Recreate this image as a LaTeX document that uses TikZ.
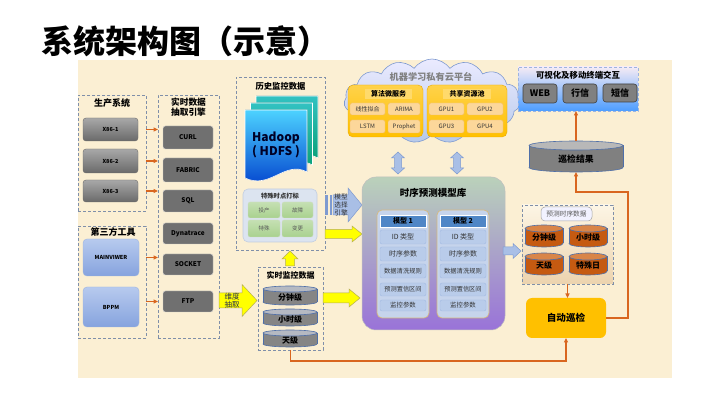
\documentclass[tikz,border=0pt]{standalone}
\usepackage{fontspec}
\setmainfont{Noto Sans CJK SC}
\usetikzlibrary{shapes.geometric,shapes.symbols,arrows.meta,calc}
\definecolor{bgc}{HTML}{FBEFD3}
\definecolor{dashc}{HTML}{7F8FA9}
\definecolor{orl}{HTML}{D9661F}
\definecolor{yel}{HTML}{FFFF00}
\definecolor{yeld}{HTML}{B5AE55}
\definecolor{barf}{HTML}{A9BFE6}
\definecolor{bard}{HTML}{7E9AD0}
\definecolor{GA}{HTML}{A8A8A8}
\definecolor{GB}{HTML}{6A6A6A}
\definecolor{EF}{HTML}{707070}
\definecolor{EB}{HTML}{C8C8C8}
\definecolor{BT}{HTML}{B7CAEE}
\definecolor{BO}{HTML}{86A3DE}
\definecolor{BBd}{HTML}{9DB4E0}
\definecolor{cylg}{HTML}{858585}
\definecolor{cylgt}{HTML}{B5B9C2}
\definecolor{cylo}{HTML}{C55A11}
\definecolor{cylot}{HTML}{D98548}
\definecolor{cylbd}{HTML}{4F6FA8}
\definecolor{gold}{HTML}{FFC000}
\definecolor{goldl}{HTML}{FFD24A}
\definecolor{goldd}{HTML}{E8A800}
\definecolor{gcell}{HTML}{FCD79A}
\definecolor{gcelld}{HTML}{F2BE5C}
\definecolor{ghead}{HTML}{FFDA6B}
\definecolor{mpan}{HTML}{C6D4EC}
\definecolor{mpand}{HTML}{D6B97E}
\definecolor{mhead}{HTML}{4F86C6}
\definecolor{mcellf}{HTML}{B9CCEA}
\definecolor{mcelld}{HTML}{A3BBE2}
\definecolor{greenc}{HTML}{A9D18E}
\definecolor{greencl}{HTML}{C5E0B3}
\definecolor{markf}{HTML}{DCE4F0}
\definecolor{markd}{HTML}{C2CDE0}
\definecolor{txtd}{HTML}{333333}
\definecolor{txtn}{HTML}{2A3050}

\newcommand\mybox[7][]{\node[inner sep=0pt, outer sep=0pt, minimum width={(#5-#3)*1pt}, minimum height={(#6-#4)*1pt}, #1] (#2) at ({(#3+#5)/2},{(#4+#6)/2}) {#7};}
\newcommand\cylr{3}
\newcommand\cyl[9][cylb]{%
 \pgfmathsetmacro\cxm{(#3+#5)/2}%
 \pgfmathsetmacro\cwr{(#5-#3)/2}%
 \filldraw[#1,fill=#7] (\cxm,#6-\cylr) ellipse [x radius=\cwr, y radius=\cylr];
 \fill[#7] (#3,#4+\cylr) rectangle (#5,#6-\cylr);
 \draw[#1] (#3,#4+\cylr) -- (#3,#6-\cylr) (#5,#4+\cylr) -- (#5,#6-\cylr);
 \filldraw[#1,fill=#8] (\cxm,#4+\cylr) ellipse [x radius=\cwr, y radius=\cylr];
 \node[inner sep=0pt, outer sep=0pt, minimum width={(#5-#3)*1pt}, minimum height={(#6-#4)*1pt}] (#2) at (\cxm,{(#4+#6)/2}) {};
 \node[cyltxt] (#2-t) at (\cxm,{(#4+#6)/2+\cylr/2}) {#9};
}
% right block arrow: style, x1, x2, yc, shaft half, head half, head length
\newcommand\rblock[7]{\filldraw[#1] (#2,#4-#5) -- (#3-#7,#4-#5) -- (#3-#7,#4-#6) -- (#3,#4) -- (#3-#7,#4+#6) -- (#3-#7,#4+#5) -- (#2,#4+#5) -- cycle;}
% up block arrow: style, xc, ytip, ybase, shaft half, head half, head length
\newcommand\ublock[7]{\filldraw[#1] (#2-#5,#4) -- (#2-#5,#3+#7) -- (#2-#6,#3+#7) -- (#2,#3) -- (#2+#6,#3+#7) -- (#2+#5,#3+#7) -- (#2+#5,#4) -- cycle;}
% vertical double block arrow: style, xc, ytop, ybot, shaft half, head half, head length
\newcommand\dblock[7]{\filldraw[#1] (#2,#3) -- (#2+#6,#3+#7) -- (#2+#5,#3+#7) -- (#2+#5,#4-#7) -- (#2+#6,#4-#7) -- (#2,#4) -- (#2-#6,#4-#7) -- (#2-#5,#4-#7) -- (#2-#5,#3+#7) -- (#2-#6,#3+#7) -- cycle;}

\tikzset{
 dbox/.style={draw=dashc, line width=0.8pt, dash pattern=on 3pt off 2pt},
 hdr/.style={font=\bfseries\fontsize{9}{10}\selectfont, inner sep=0pt, align=center},
 gbtn/.style={rounded corners=3pt, draw=GB, top color=GA, bottom color=GB, font=\bfseries\fontsize{5.5}{6}\selectfont},
 ebtn/.style={rounded corners=2.5pt, draw=EB, fill=EF, font=\bfseries\fontsize{6.5}{7}\selectfont},
 bbtn/.style={rounded corners=4pt, draw=BBd, top color=BT, bottom color=BO, font=\bfseries\fontsize{5.5}{6}\selectfont},
 oline/.style={draw=orl, line width=1.1pt, -{Triangle[length=4.5pt,width=4pt]}},
 yarr/.style={fill=yel, draw=yeld, line width=0.5pt},
 barr/.style={fill=barf, draw=bard, line width=0.5pt},
 cylb/.style={draw=cylbd, line width=0.6pt},
 cyltxt/.style={inner sep=0pt, font=\bfseries\fontsize{8}{9}\selectfont},
 gpanel/.style={rounded corners=5pt, draw=goldd, top color=goldl, bottom color=gold},
 gcellst/.style={rounded corners=1.5pt, fill=gcell, draw=gcelld, line width=0.4pt, text=txtd, font=\fontsize{6}{7}\selectfont},
 mcell/.style={rounded corners=2pt, fill=mcellf, draw=mcelld, line width=0.4pt, text=txtd},
 grcell/.style={rounded corners=2pt, top color=greencl, bottom color=greenc, draw=greenc!80!black!40, line width=0.3pt, text=black!65, font=\fontsize{5.5}{6}\selectfont},
 vbtn/.style={rounded corners=3pt, fill=black!50, draw=black!75, line width=0.6pt, font=\bfseries\fontsize{9}{10}\selectfont},
}

\begin{document}
\begin{tikzpicture}[x=1pt,y=-1pt]
\useasboundingbox (0,0) rectangle (715,403);
\fill[white] (0,0) rectangle (715,403);
\fill[bgc] (78,60) rectangle (672,378);

% title
\node[anchor=west, inner sep=0pt, font=\bfseries\fontsize{32}{34}\selectfont] (title) at (41,41) {系统架构图（示意）};

% ---------------- left column
\mybox[dbox]{prod}{78}{95}{146}{211}{}
\node[hdr] (prodt) at (112,103) {生产系统};
\mybox[gbtn]{x86a}{83}{118}{138}{141}{X86-1}
\mybox[gbtn]{x86b}{83}{149}{138}{173}{X86-2}
\mybox[gbtn]{x86c}{83}{180}{138}{202}{X86-3}

\mybox[dbox]{third}{78}{226}{146}{338}{}
\node[hdr] (thirdt) at (113,232) {第三方工具};
\mybox[bbtn]{mainv}{83}{239}{139}{276}{MAINVIWER}
\mybox[bbtn]{bppm}{83}{287}{139}{327}{BPPM}

\mybox[dbox]{eng}{158}{95}{219}{338}{}
\node[hdr, font=\bfseries\fontsize{8.7}{10}\selectfont] (engt) at (188.5,107) {实时数据\\抽取引擎};
\mybox[ebtn]{curl}{163}{126}{213}{149}{CURL}
\mybox[ebtn]{fabric}{163}{158}{213}{182}{FABRIC}
\mybox[ebtn]{sql}{163}{190}{213}{212}{SQL}
\mybox[ebtn]{dyna}{163}{223}{213}{244}{Dynatrace}
\mybox[ebtn]{socket}{163}{254}{213}{275}{SOCKET}
\mybox[ebtn]{ftp}{163}{291}{213}{312}{FTP}

\draw[oline] (prod.east |- x86a) -- (eng.west |- x86a);
\draw[oline] (prod.east |- x86b) -- (eng.west |- x86b);
\draw[oline] (prod.east |- x86c) -- (eng.west |- x86c);
\draw[oline] (third.east |- mainv) -- (eng.west |- mainv);
\draw[oline] (third.east |- ftp) -- (eng.west |- ftp);

% ---------------- history
\mybox[dbox]{hist}{236}{77}{325}{250}{}
\node[hdr, font=\bfseries\fontsize{8.3}{9}\selectfont] (histt) at (280.5,86) {历史监控数据};
\foreach \dx/\dy in {11/-14, 5.5/-7}{
 \fill[top color=teal!60!cyan!80, bottom color=teal!80!green, draw=white, line width=0.6pt]
 (245+\dx,110+\dy) -- (307+\dx,110+\dy) -- (307+\dx,172+\dy) .. controls (285+\dx,160+\dy) and (270+\dx,190+\dy) .. (245+\dx,178+\dy) -- cycle;
}
\fill[top color=cyan!75!blue!70, bottom color=blue!70!cyan!80!black, draw=white, line width=0.6pt]
 (245,110) -- (307,110) -- (307,172) .. controls (285,160) and (270,190) .. (245,178) -- cycle;
\node[inner sep=0pt, align=center, text=black!85!blue, font=\bfseries\fontsize{12}{14}\selectfont] (hdfs) at (276,145) {Hadoop\\( HDFS )};

\mybox[rounded corners=5pt, fill=markf, draw=markd, line width=0.6pt]{mark}{243}{189}{317}{242}{}
\node[inner sep=0pt, font=\bfseries\fontsize{6.3}{7}\selectfont, text=black!80] (markt) at (280,196) {特殊时点打标};
\mybox[grcell]{tc}{248}{202}{280}{218}{投产}
\mybox[grcell]{gz}{282}{202}{313}{218}{故障}
\mybox[grcell]{ts}{248}{220}{280}{237}{特殊}
\mybox[grcell]{bg}{282}{220}{313}{237}{变更}

% ---------------- realtime monitoring data
\mybox[dbox]{rt}{258}{267}{323}{350}{}
\node[hdr, font=\bfseries\fontsize{8}{9}\selectfont] (rtt) at (290.5,275) {实时监控数据};
\tikzset{cyltxt/.style={inner sep=0pt, font=\bfseries\fontsize{8}{9}\selectfont}}
\cyl{rc1}{263}{286}{317}{305}{cylg}{cylgt}{分钟级}
\cyl{rc2}{263}{309}{317}{326}{cylg}{cylgt}{小时级}
\cyl{rc3}{263}{330}{317}{347}{cylg}{cylgt}{天级}

% ---------------- block arrows
\rblock{yarr}{219}{257}{300.5}{7.5}{16}{15}
\node[inner sep=0pt, align=center, text=txtn, font=\fontsize{7.5}{8.5}\selectfont] (dimtxt) at (232,300.5) {维度\\抽取};
\ublock{yarr}{290}{251}{266}{4.5}{8}{8}
\rblock{barr}{333}{362}{205}{10}{17}{14}
\fill[bard] (325,195) rectangle (327.5,215);
\fill[bard] (329.5,195) rectangle (331.5,215);
\node[inner sep=0pt, align=center, text=txtd, font=\fontsize{6.7}{8}\selectfont] (seltxt) at (341,205) {模型\\选择\\引擎};
\rblock{yarr}{325}{362}{234}{4.5}{8}{10}
\rblock{yarr}{323}{360}{298}{5}{9}{11}

% ---------------- cloud
\node[cloud, cloud puffs=15, cloud puff arc=110, aspect=2.1, draw=bard, line width=0.6pt, top color=blue!8, bottom color=barf!85, minimum width=176pt, minimum height=84pt, inner sep=0pt] (cloud) at (432,101) {};
\node[inner sep=0pt, text=black!50, font=\bfseries\fontsize{9.2}{10}\selectfont] (cloudt) at (431,77) {机器学习私有云平台};
\mybox[gpanel]{algo}{348}{85}{423}{137}{}
\mybox[fill=ghead]{algoh}{365}{89}{412}{99}{\bfseries\fontsize{7}{8}\selectfont 算法微服务}
\mybox[gcellst]{c11}{350}{103}{385}{115}{线性拟合}
\mybox[gcellst]{c12}{388}{103}{420}{115}{ARIMA}
\mybox[gcellst]{c13}{350}{120}{385}{133}{LSTM}
\mybox[gcellst]{c14}{388}{120}{420}{133}{Prophet}
\mybox[gpanel]{pool}{427}{85}{507}{137}{}
\mybox[fill=ghead]{poolh}{443}{89}{491}{99}{\bfseries\fontsize{7}{8}\selectfont 共享资源池}
\mybox[gcellst]{g1}{429}{103}{464}{115}{GPU1}
\mybox[gcellst]{g2}{467}{103}{503}{115}{GPU2}
\mybox[gcellst]{g3}{429}{120}{464}{133}{GPU3}
\mybox[gcellst]{g4}{467}{120}{503}{133}{GPU4}

\dblock{barr}{398}{152}{174}{3.5}{6.5}{6}
\dblock{barr}{457}{152}{174}{3.5}{6.5}{6}

% ---------------- model library
\mybox[rounded corners=14pt, draw=black!25, line width=0.5pt, top color=green!20!gray!45, middle color=blue!12, bottom color=blue!45!violet!55]{lib}{362}{177}{505}{330}{}
\node[inner sep=0pt, font=\bfseries\fontsize{9.5}{10}\selectfont] (libt) at (433,193) {时序预测模型库};
\mybox[rounded corners=5pt, fill=mpan, draw=mpand, line width=0.7pt]{m1}{377}{210}{429}{318}{}
\mybox[rounded corners=5pt, fill=mpan, draw=mpand, line width=0.7pt]{m2}{437}{210}{489}{318}{}
\mybox[fill=mhead, draw=white, line width=0.8pt, font=\bfseries\fontsize{7}{8}\selectfont]{m1h}{380}{215}{426}{227}{模型 1}
\mybox[fill=mhead, draw=white, line width=0.8pt, font=\bfseries\fontsize{7}{8}\selectfont]{m2h}{440}{215}{486}{227}{模型 2}
\foreach \n/\ya/\yb/\fz/\t in {a/230/244/7/ID 类型, b/247/261/7/时序参数, c/264/278/6.3/数据清洗规则, d/283/296/6.2/预测置信区间, e/300/311/6.4/监控参数}{
 \mybox[mcell, font=\fontsize{\fz}{8}\selectfont]{m1\n}{380}{\ya}{426}{\yb}{\t}
 \mybox[mcell, font=\fontsize{\fz}{8}\selectfont]{m2\n}{440}{\ya}{486}{\yb}{\t}
}

\rblock{barr}{503}{521}{251}{4}{7.5}{8}

% ---------------- predicted series
\mybox[dbox, top color=bgc!60!white, bottom color=brown!25!bgc]{pred}{522}{205}{613}{284}{}
\mybox[rounded corners=4pt, fill=blue!5!white, draw=black!35, line width=0.5pt, text=black!65, font=\fontsize{6.7}{7}\selectfont]{predl}{541}{207}{592}{221}{预测时序数据}
\renewcommand\cylr{3.5}
\tikzset{cyltxt/.style={inner sep=0pt, font=\bfseries\fontsize{8}{9}\selectfont}}
\cyl{pc1}{525}{225}{563}{247}{cylo}{cylot}{分钟级}
\cyl{pc2}{569}{225}{607}{247}{cylo}{cylot}{小时级}
\cyl{pc3}{525}{253}{563}{275}{cylo}{cylot}{天级}
\cyl{pc4}{569}{253}{607}{275}{cylo}{cylot}{特殊日}

\mybox[rounded corners=6pt, fill=gold, font=\bfseries\fontsize{9.6}{10}\selectfont]{auto}{526}{298}{606}{338}{自动巡检}

% ---------------- result & interaction
\renewcommand\cylr{4.5}
\tikzset{cyltxt/.style={inner sep=0pt, font=\bfseries\fontsize{8.8}{9}\selectfont}}
\cyl{result}{529}{141}{623}{172}{black!50}{black!28}{巡检结果}

\mybox[dbox, draw=BBd, top color=violet!8!white, bottom color=blue!55!cyan!70]{vis}{518}{67}{638}{111}{}
\node[inner sep=0pt, font=\bfseries\fontsize{8.4}{9}\selectfont] (vist) at (578,75) {可视化及移动终端交互};
\mybox[vbtn]{web}{523}{84}{557}{103}{WEB}
\mybox[vbtn]{hx}{563}{84}{597}{103}{行信}
\mybox[vbtn]{dx}{603}{84}{637}{102}{短信}

% ---------------- orange connectors
\draw[oline] (pred.south) -- (auto.north -| pred.south);
\draw[oline] (auto.east) -| (628,192) -| (result.south);
\draw[oline] (result.north) -- (vis.south -| result.north);
\draw[oline] (rt.south) -- ++(0,11) -| (auto.south);
\end{tikzpicture}
\end{document}
